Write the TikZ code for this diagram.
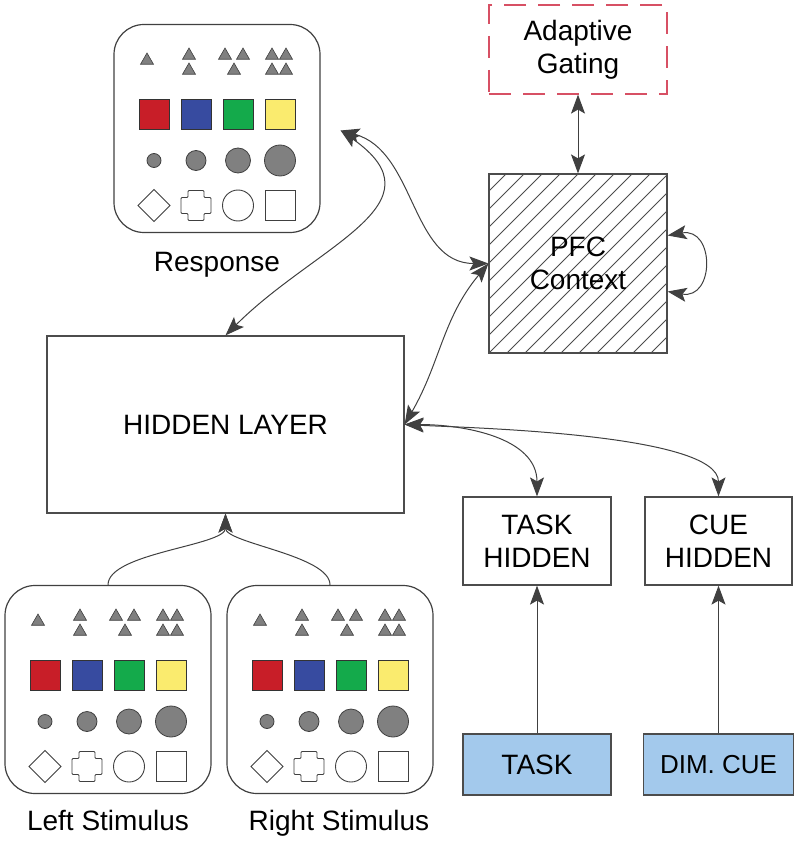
\documentclass[tikz,border=0pt]{standalone}
\usepackage{fontspec}
\setmainfont{Liberation Sans}
\usetikzlibrary{arrows.meta,positioning,shapes.geometric}
\definecolor{swred}{RGB}{200,30,40}
\definecolor{swblue}{RGB}{55,75,160}
\definecolor{swgreen}{RGB}{20,170,75}
\definecolor{swyellow}{RGB}{250,235,110}
\definecolor{gatered}{RGB}{215,80,100}
\definecolor{inblue}{RGB}{163,201,236}
\tikzset{
  >={Stealth[length=19pt,width=14pt,inset=4pt]},
  txt/.style={font=\fontsize{28}{33}\selectfont},
  unit/.style={
    rectangle,
    draw=black!70, line width=1.2pt,
    fill=white,
    txt, align=center,
    inner sep=0pt},
  ctx/.style={
    unit,
    path picture={
      \foreach \k in {0,...,20}
        \draw[black!70, line width=0.8pt]
          ([xshift=-180pt+18pt*\k]path picture bounding box.south west)
          -- ++(200pt,200pt);}},
  gatebox/.style={
    unit,
    draw=gatered,
    dash pattern=on 22pt off 12pt},
  inp/.style={unit, fill=inblue},
  panel/.style={
    rectangle, rounded corners=30pt,
    draw=black!75, line width=1.2pt,
    minimum width=206pt, minimum height=208pt},
  tri/.style={
    regular polygon, regular polygon sides=3,
    minimum size=15pt, inner sep=0pt,
    fill=black!50, draw=black!75, line width=0.6pt},
  swatch/.style={
    rectangle, minimum size=30pt, inner sep=0pt,
    draw=black!80, line width=0.8pt},
  dot/.style={
    circle, inner sep=0pt,
    fill=black!50, draw=black!75, line width=0.8pt},
  outline/.style={draw=black!75, line width=0.9pt, fill=white},
  link/.style={draw=black!75, line width=1pt, <->},
  feed/.style={draw=black!75, line width=1pt, ->},
}
% one panel of feature icons
\newcommand{\featpanel}[2]{%
  \node[panel] (#1) at (#2) {};
  \begin{scope}[shift={(#1.center)}]
    \foreach \p in {(-70,-68),(-28,-73),(-28,-58),(8,-73),(26,-73),(17,-58),%
                    (55,-73),(69,-73),(55,-58),(69,-58)}
      \node[tri] at \p {};
    \foreach \c [count=\i] in {swred,swblue,swgreen,swyellow}
      \node[swatch, fill=\c] at ({42*\i-105},-14) {};
    \foreach \d [count=\i] in {14,20,25,31}
      \node[dot, minimum size=\d pt] at ({42*\i-105},32) {};
    \draw[outline] (-79,77) -- (-63,61) -- (-47,77) -- (-63,93) -- cycle;
    \draw[outline, rounded corners=1pt] (-36,69) -- (-29,69) -- (-29,62)
      -- (-13,62) -- (-13,69) -- (-6,69) -- (-6,85) -- (-13,85) -- (-13,92)
      -- (-29,92) -- (-29,85) -- (-36,85) -- cycle;
    \draw[outline] (21,77) circle[radius=15.5];
    \draw[outline] (48,62) rectangle (78,92);
  \end{scope}}

\begin{document}
\begin{tikzpicture}[x=1pt, y=-1pt]
  \useasboundingbox (0,0) rectangle (800,842);
  % feature panels
  \featpanel{resp}{217,128.5}
  \featpanel{lstim}{108,689.5}
  \featpanel{rstim}{330,689.5}
  \node[txt, inner sep=0pt, below=19pt of resp] (resplbl) {Response};
  \node[txt, inner sep=0pt, below=16pt of lstim] (lstimlbl) {Left Stimulus};
  \node[txt, inner sep=0pt, below=16pt of rstim, xshift=9pt] (rstimlbl) {Right Stimulus};
  % layers
  \node[unit, minimum width=357pt, minimum height=177pt] (hidden) at (225.5,424.5) {HIDDEN LAYER};
  \node[ctx, minimum width=178pt, minimum height=179pt] (pfc) at (578,263.5) {PFC\\Context};
  \node[gatebox, minimum width=178pt, minimum height=89pt] (gate) at (578,49.5) {Adaptive\\Gating};
  \node[unit, minimum width=148pt, minimum height=88pt] (taskh) at (537,541) {TASK\\HIDDEN};
  \node[unit, minimum width=147pt, minimum height=88pt] (cueh) at (718.5,541) {CUE\\HIDDEN};
  \node[inp, minimum width=148pt, minimum height=61pt] (task) at (537,764.5) {TASK};
  \node[inp, minimum width=150pt, minimum height=61pt,
        font=\fontsize{26}{30}\selectfont] (cue) at (718.5,764.5) {DIM. CUE};
  % connections
  \coordinate (rp) at ([xshift=20pt, yshift=-2pt]resp.east);
  \draw[link] (gate) -- (pfc);
  \draw[link] (rp) to[out=-15, in=180] (pfc.west);
  \draw[link] (rp) to[out=-35, in=45, looseness=1.4] (hidden.north);
  \draw[link] (hidden.east) to[out=60, in=230] (pfc.west);
  \draw[link] (hidden.east) to[out=0, in=90] (taskh.north);
  \draw[link] (hidden.east) to[out=-3, in=90, looseness=0.5] (cueh.north);
  \draw[link] ([yshift=28pt]pfc.east) to[out=10, in=-10, looseness=2.2] ([yshift=-28pt]pfc.east);
  \draw[feed] (task) -- (taskh);
  \draw[feed] (cue) -- (cueh);
  \draw[feed] (lstim.north) to[out=90, in=-90, looseness=0.6] (hidden.south);
  \draw[feed] (rstim.north) to[out=90, in=-90, looseness=0.6] (hidden.south);
\end{tikzpicture}
\end{document}
